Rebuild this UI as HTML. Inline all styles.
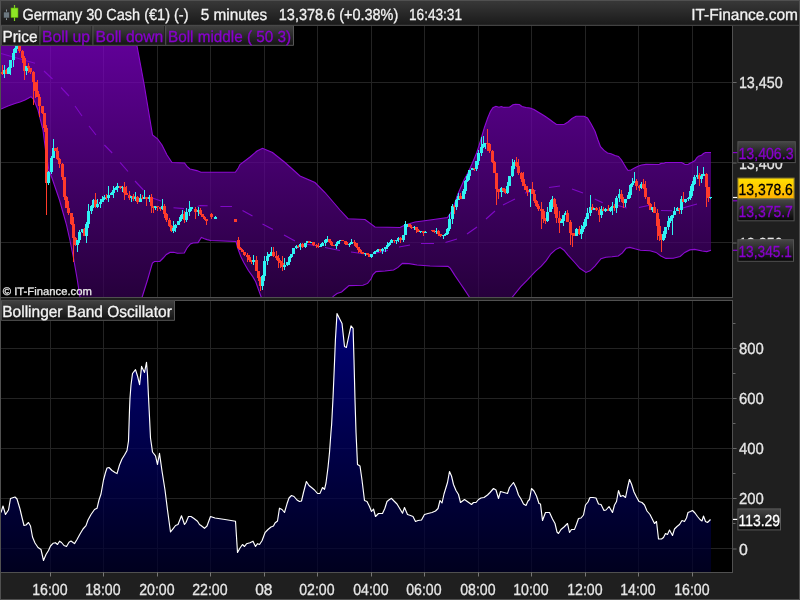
<!DOCTYPE html><html><head><meta charset="utf-8"><title>Germany 30 Cash</title>
<style>html,body{margin:0;padding:0;background:#000;overflow:hidden}svg{display:block}text{font-family:'Liberation Sans', Arial, sans-serif;text-rendering:geometricPrecision}</style></head><body>
<svg width="800" height="600" viewBox="0 0 800 600">
<defs>
<linearGradient id="gh" x1="0" y1="0" x2="0" y2="1"><stop offset="0" stop-color="#393939"/><stop offset="1" stop-color="#1a1a1a"/></linearGradient>
<linearGradient id="gp" gradientUnits="userSpaceOnUse" x1="0" y1="46" x2="0" y2="297"><stop offset="0" stop-color="#8400d0"/><stop offset="1" stop-color="#350053"/></linearGradient>
<linearGradient id="gb" gradientUnits="userSpaceOnUse" x1="0" y1="301" x2="0" y2="572"><stop offset="0" stop-color="#0000a9"/><stop offset="1" stop-color="#00002a"/></linearGradient>
<linearGradient id="gt" x1="0" y1="0" x2="0" y2="1"><stop offset="0" stop-color="#424242"/><stop offset="1" stop-color="#121212"/></linearGradient>
<linearGradient id="gx" x1="0" y1="0" x2="0" y2="1"><stop offset="0" stop-color="#464646"/><stop offset="1" stop-color="#060606"/></linearGradient>
<linearGradient id="gy" x1="0" y1="0" x2="0" y2="1"><stop offset="0" stop-color="#ffe000"/><stop offset="1" stop-color="#ffb000"/></linearGradient>
<clipPath id="ct"><rect x="1" y="25.5" width="731" height="271.5"/></clipPath>
<clipPath id="cb"><rect x="1" y="301" width="731" height="271"/></clipPath>
</defs>
<rect width="800" height="600" fill="#000"/>
<path d="M50.5 25.5V297M50.5 301V572M103.5 25.5V297M103.5 301V572M157.5 25.5V297M157.5 301V572M210.5 25.5V297M210.5 301V572M264.5 25.5V297M264.5 301V572M317.5 25.5V297M317.5 301V572M371.5 25.5V297M371.5 301V572M424.5 25.5V297M424.5 301V572M478.5 25.5V297M478.5 301V572M531.5 25.5V297M531.5 301V572M585.5 25.5V297M585.5 301V572M638.5 25.5V297M638.5 301V572M692.5 25.5V297M692.5 301V572M1 82.5H732M1 162.5H732M1 242.5H732M1 348.5H732M1 398.5H732M1 448.5H732M1 498.5H732M1 548.5H732" stroke="#232323" stroke-width="1" fill="none"/>
<g clip-path="url(#ct)">
<polygon points="-5,-14 137,46 143.8,82.5 149.2,115 152.5,135 157.5,138.8 162,145 167,155 172,162.5 184.5,163 187,166.3 190,169 196.8,170.6 201,172.3 235.3,172.3 238.3,168 240,164.5 250,157 257,151 262.5,148.3 272.5,152.5 285,162.5 300,176 315,182.5 325,192.5 340,210 348,218.7 365,219.5 375,227 400,227.5 405,225 415,222 430,220 447.5,217.5 452.5,210 457.5,195 464,180 468.5,171.7 472.2,163.5 476.9,152.2 480.6,140.5 484.4,127.5 487.7,118 490.4,111.5 492.9,107.8 495.9,106.3 498.9,107.2 501.4,106.5 503.9,107.4 509.9,107 512.9,104.7 515.4,104.2 519.4,104.5 522,106.5 526,107.5 530,108 534,109.5 538,112 541,113.8 545,116.2 549,119 553,122 556.5,124.5 564,124.5 568,122 572,118.5 576,116.3 584,116.3 587.5,118 591,123.8 595,131.3 598,140 600.5,146.6 604,150.4 607.5,153 611,153.7 615,155.5 618.5,156.4 621.5,160 624,164.2 626,167.6 628,170.5 631,170 634.5,168 638,166.2 641.5,165 646,164.4 659,164.5 661,163.4 664,163.2 665.5,162.5 681.5,162.5 683,163.3 685,164.5 688,164.5 690,163.3 692.5,162 695,160.5 696.5,158 698.5,156.2 701.5,155.2 703.5,153.5 705.5,152.5 711,152.5 711,250.3 706.8,251.6 702.1,251 694.7,249.4 689.8,249.9 684.8,252.4 680.1,256.5 673.3,258.3 665.8,258.4 660.9,256 656,252.4 650,250.7 640.3,250.2 634.8,248.8 629.8,247.4 626,248.3 622.4,252.9 618.3,256 612,256.8 605.9,257.3 601,258.7 594.9,266.1 590,270.8 586,272.5 579.8,268.3 574.3,262 568,255.1 564,250.2 560,247.4 555.6,249.6 550.9,253.8 546.2,260.6 541.3,266.1 535.2,271.6 527.5,279.9 520.6,286.8 512.4,297 490,330 491,330 469,296.5 465,290.4 460,283 455,275.6 450.4,268.4 448,266.4 430,266 417,265 409,263.6 402.4,263.4 398,267.4 393.6,270 385,271 376,271.6 373,274.6 371,279 367.6,283.4 363,285.3 349,285.6 345,289 341.6,292 337,293.6 333,296.5 320,330 273,330 261,296.5 258.2,288.7 255.7,281.7 252.6,276.4 248.2,270.3 243.8,262.4 240.7,256.3 237.7,248 236,241.5 210.5,240.5 207,239.6 204.4,238.7 201.4,237.4 198,242.6 193,243 190.4,244 187,248 184.3,253 177.3,253.3 173.8,252.2 170,252.4 166.4,254.5 163.2,258 159.8,261.5 154.5,261.5 152.4,263 147.5,280 142.3,296.5 131,330 86,330 79.8,295.8 77,278 73.5,258 70,240.5 66.5,224.8 63,212.5 59.5,200 56,189.8 51.8,177.5 49,170.5 45.5,150 43,130 38,110 34,100 31,96.7 25,100 20,102 15,103.5 8,106 1,109 -5,109" fill="url(#gp)" fill-opacity="0.72"/>
<polyline points="-5,-14 137,46 143.8,82.5 149.2,115 152.5,135 157.5,138.8 162,145 167,155 172,162.5 184.5,163 187,166.3 190,169 196.8,170.6 201,172.3 235.3,172.3 238.3,168 240,164.5 250,157 257,151 262.5,148.3 272.5,152.5 285,162.5 300,176 315,182.5 325,192.5 340,210 348,218.7 365,219.5 375,227 400,227.5 405,225 415,222 430,220 447.5,217.5 452.5,210 457.5,195 464,180 468.5,171.7 472.2,163.5 476.9,152.2 480.6,140.5 484.4,127.5 487.7,118 490.4,111.5 492.9,107.8 495.9,106.3 498.9,107.2 501.4,106.5 503.9,107.4 509.9,107 512.9,104.7 515.4,104.2 519.4,104.5 522,106.5 526,107.5 530,108 534,109.5 538,112 541,113.8 545,116.2 549,119 553,122 556.5,124.5 564,124.5 568,122 572,118.5 576,116.3 584,116.3 587.5,118 591,123.8 595,131.3 598,140 600.5,146.6 604,150.4 607.5,153 611,153.7 615,155.5 618.5,156.4 621.5,160 624,164.2 626,167.6 628,170.5 631,170 634.5,168 638,166.2 641.5,165 646,164.4 659,164.5 661,163.4 664,163.2 665.5,162.5 681.5,162.5 683,163.3 685,164.5 688,164.5 690,163.3 692.5,162 695,160.5 696.5,158 698.5,156.2 701.5,155.2 703.5,153.5 705.5,152.5 711,152.5" fill="none" stroke="#8c0ad2" stroke-width="1.1"/>
<polyline points="1,109 8,106 15,103.5 20,102 25,100 31,96.7 34,100 38,110 43,130 45.5,150 49,170.5 51.8,177.5 56,189.8 59.5,200 63,212.5 66.5,224.8 70,240.5 73.5,258 77,278 79.8,295.8 86,330 131,330 142.3,296.5 147.5,280 152.4,263 154.5,261.5 159.8,261.5 163.2,258 166.4,254.5 170,252.4 173.8,252.2 177.3,253.3 184.3,253 187,248 190.4,244 193,243 198,242.6 201.4,237.4 204.4,238.7 207,239.6 210.5,240.5 236,241.5 237.7,248 240.7,256.3 243.8,262.4 248.2,270.3 252.6,276.4 255.7,281.7 258.2,288.7 261,296.5 273,330 320,330 333,296.5 337,293.6 341.6,292 345,289 349,285.6 363,285.3 367.6,283.4 371,279 373,274.6 376,271.6 385,271 393.6,270 398,267.4 402.4,263.4 409,263.6 417,265 430,266 448,266.4 450.4,268.4 455,275.6 460,283 465,290.4 469,296.5 491,330 490,330 512.4,297 520.6,286.8 527.5,279.9 535.2,271.6 541.3,266.1 546.2,260.6 550.9,253.8 555.6,249.6 560,247.4 564,250.2 568,255.1 574.3,262 579.8,268.3 586,272.5 590,270.8 594.9,266.1 601,258.7 605.9,257.3 612,256.8 618.3,256 622.4,252.9 626,248.3 629.8,247.4 634.8,248.8 640.3,250.2 650,250.7 656,252.4 660.9,256 665.8,258.4 673.3,258.3 680.1,256.5 684.8,252.4 689.8,249.9 694.7,249.4 702.1,251 706.8,251.6 711,250.3" fill="none" stroke="#8c0ad2" stroke-width="1.1"/>
<path d="M1 53.5L35 63.2 M44 71L52.5 79 M61 87.5L69 96 M75 106L82 116 M89 126L96 135 M104.4 145L112.2 153 M120 162.4L128 171.5 M135 181L143.4 190 M151.6 197.8L161 201 M173.5 207.7L184 208.6 M197.5 206.5L200 205.6 M200 205.6L207.6 205.7 M220.4 206.5L232 206.5 M242.5 210.5L252.5 216 M262.5 224L273 229.5 M284 235L295 241 M305 244L315 245.5 M325 247.5L340 250.5 M351 252L365 254 M376 253L388 250.5 M399 247L410 245 M421 243.5L434 243.5 M445.5 242.5L457 239 M467 234L477 227 M486 219L495 211 M503 205L515 199 M525 193L536 190.5 M549 187.5L560 186 M572 189L583 193 M594.7 199L602.7 202.7 M616 205L626.7 208 M639 207.5L650.7 205 M661 210.5L672 210.7 M682.7 208L697 204" fill="none" stroke="#7f08c6" stroke-width="1.1"/>
</g>
<g clip-path="url(#ct)" shape-rendering="crispEdges">
<path d="M2 65h1V75h-1zM1 72h3V74h-3z" fill="#ff3b2b"/>
<path d="M4 65h1V78h-1zM3 70h3V74h-3z" fill="#2ff3f3"/>
<path d="M6 69h1V74h-1zM5 70h3V74h-3z" fill="#ff3b2b"/>
<path d="M8 67h1V74h-1zM7 68h3V74h-3zM10 60h1V75h-1zM9 60h3V68h-3zM13 49h1V67h-1zM12 53h3V60h-3zM15 41h1V53h-1zM14 48h3V53h-3zM17 45h1V49h-1zM16 46h3V48h-3z" fill="#2ff3f3"/>
<path d="M19 42h1V53h-1zM18 46h3V51h-3zM22 50h1V63h-1zM21 51h3V58h-3zM24 56h1V80h-1zM23 58h3V71h-3z" fill="#ff3b2b"/>
<path d="M26 66h1V75h-1zM25 66h3V71h-3z" fill="#2ff3f3"/>
<path d="M28 63h1V73h-1zM27 66h3V68h-3zM30 68h1V74h-1zM29 68h3V72h-3zM33 71h1V105h-1zM32 72h3V82h-3zM35 82h1V98h-1zM34 82h3V91h-3zM37 80h1V97h-1zM36 91h3V97h-3zM39 94h1V117h-1zM38 97h3V106h-3zM42 106h1V114h-1zM41 106h3V113h-3zM44 113h1V132h-1zM43 113h3V128h-3zM46 125h1V215h-1zM45 128h3V183h-3z" fill="#ff3b2b"/>
<path d="M48 171h1V185h-1zM47 172h3V183h-3zM51 156h1V174h-1zM50 158h3V172h-3zM53 139h1V158h-1zM52 148h3V158h-3z" fill="#2ff3f3"/>
<path d="M55 148h1V151h-1zM54 148h3V151h-3zM57 147h1V160h-1zM56 151h3V159h-3zM59 158h1V168h-1zM58 159h3V164h-3zM62 163h1V180h-1zM61 164h3V177h-3zM64 177h1V200h-1zM63 177h3V197h-3zM66 196h1V208h-1zM65 197h3V208h-3zM68 201h1V215h-1zM67 208h3V213h-3zM71 213h1V225h-1zM70 213h3V224h-3zM73 217h1V262h-1zM72 224h3V238h-3zM75 237h1V246h-1zM74 238h3V245h-3z" fill="#ff3b2b"/>
<path d="M77 240h1V252h-1zM76 240h3V245h-3zM79 230h1V243h-1zM78 232h3V240h-3zM82 229h1V233h-1zM81 229h3V232h-3z" fill="#2ff3f3"/>
<path d="M84 228h1V236h-1zM83 229h3V236h-3z" fill="#ff3b2b"/>
<path d="M86 222h1V243h-1zM85 224h3V236h-3zM88 204h1V228h-1zM87 211h3V224h-3zM91 205h1V214h-1zM90 206h3V211h-3zM93 199h1V208h-1zM92 200h3V206h-3z" fill="#2ff3f3"/>
<path d="M95 193h1V208h-1zM94 200h3V207h-3z" fill="#ff3b2b"/>
<path d="M97 199h1V208h-1zM96 204h3V207h-3zM100 199h1V208h-1zM99 202h3V204h-3zM102 196h1V202h-1zM101 199h3V202h-3zM104 195h1V200h-1zM103 197h3V199h-3z" fill="#2ff3f3"/>
<path d="M106 194h1V200h-1zM105 197h3V198h-3z" fill="#ff3b2b"/>
<path d="M108 186h1V202h-1zM107 195h3V198h-3zM111 192h1V195h-1zM110 193h3V195h-3zM113 186h1V198h-1zM112 190h3V193h-3zM115 187h1V190h-1zM114 188h3V190h-3zM117 183h1V192h-1zM116 186h3V188h-3z" fill="#2ff3f3"/>
<path d="M120 186h1V189h-1zM119 186h3V188h-3z" fill="#ff3b2b"/>
<path d="M122 186h1V192h-1zM121 187h3V188h-3z" fill="#2ff3f3"/>
<path d="M124 182h1V200h-1zM123 187h3V193h-3zM126 186h1V195h-1zM125 193h3V195h-3zM129 191h1V200h-1zM128 195h3V198h-3z" fill="#ff3b2b"/>
<path d="M131 196h1V202h-1zM130 196h3V198h-3z" fill="#2ff3f3"/>
<path d="M133 194h1V201h-1zM132 196h3V199h-3z" fill="#ff3b2b"/>
<path d="M135 192h1V201h-1zM134 197h3V199h-3z" fill="#2ff3f3"/>
<path d="M137 196h1V204h-1zM136 197h3V202h-3z" fill="#ff3b2b"/>
<path d="M140 194h1V202h-1zM139 198h3V202h-3z" fill="#2ff3f3"/>
<path d="M142 195h1V199h-1zM141 198h3V199h-3z" fill="#ff3b2b"/>
<path d="M144 190h1V199h-1zM143 197h3V199h-3z" fill="#2ff3f3"/>
<path d="M146 197h1V206h-1zM145 197h3V199h-3z" fill="#ff3b2b"/>
<path d="M149 195h1V202h-1zM148 197h3V199h-3z" fill="#2ff3f3"/>
<path d="M151 194h1V213h-1zM150 197h3V206h-3zM153 206h1V213h-1zM152 206h3V208h-3z" fill="#ff3b2b"/>
<path d="M155 206h1V210h-1zM154 206h3V208h-3z" fill="#2ff3f3"/>
<path d="M157 206h1V211h-1zM156 206h3V207h-3zM160 207h1V211h-1zM159 207h3V209h-3z" fill="#ff3b2b"/>
<path d="M162 199h1V210h-1zM161 206h3V209h-3z" fill="#2ff3f3"/>
<path d="M164 204h1V218h-1zM163 206h3V214h-3zM166 213h1V222h-1zM165 214h3V220h-3zM169 218h1V227h-1zM168 220h3V226h-3zM171 225h1V232h-1zM170 226h3V231h-3z" fill="#ff3b2b"/>
<path d="M173 221h1V233h-1zM172 228h3V231h-3zM175 224h1V232h-1zM174 225h3V228h-3zM178 221h1V225h-1zM177 221h3V225h-3zM180 215h1V222h-1zM179 217h3V221h-3zM182 210h1V219h-1zM181 214h3V217h-3z" fill="#2ff3f3"/>
<path d="M184 211h1V223h-1zM183 214h3V220h-3z" fill="#ff3b2b"/>
<path d="M186 208h1V222h-1zM185 212h3V220h-3zM189 201h1V216h-1zM188 209h3V212h-3zM191 207h1V211h-1zM190 207h3V209h-3z" fill="#2ff3f3"/>
<path d="M195 207h1V219h-1zM194 209h3V212h-3z" fill="#ff3b2b"/>
<path d="M198 207h1V216h-1zM197 210h3V212h-3z" fill="#2ff3f3"/>
<path d="M200 208h1V215h-1zM199 210h3V214h-3zM202 214h1V217h-1zM201 214h3V217h-3zM204 216h1V220h-1zM203 217h3V219h-3zM206 219h1V225h-1zM205 219h3V221h-3zM211 213h1V219h-1zM210 214h3V217h-3z" fill="#ff3b2b"/>
<path d="M215 216h1V219h-1zM214 217h3V219h-3z" fill="#2ff3f3"/>
<path d="M238 237h1V249h-1zM237 240h3V248h-3zM240 247h1V250h-1zM239 248h3V250h-3zM242 249h1V252h-1zM241 250h3V252h-3zM244 252h1V256h-1zM243 252h3V255h-3zM247 253h1V262h-1zM246 255h3V257h-3zM249 255h1V262h-1zM248 257h3V260h-3zM251 260h1V264h-1zM250 260h3V262h-3z" fill="#ff3b2b"/>
<path d="M253 255h1V265h-1zM252 260h3V262h-3z" fill="#2ff3f3"/>
<path d="M256 256h1V271h-1zM255 260h3V271h-3zM258 271h1V281h-1zM257 271h3V278h-3zM260 277h1V291h-1zM259 278h3V286h-3z" fill="#ff3b2b"/>
<path d="M262 275h1V290h-1zM261 276h3V286h-3zM264 256h1V281h-1zM263 261h3V276h-3zM267 252h1V265h-1zM266 256h3V261h-3zM269 254h1V257h-1zM268 254h3V256h-3zM271 247h1V256h-1zM270 252h3V254h-3z" fill="#2ff3f3"/>
<path d="M273 247h1V257h-1zM272 252h3V256h-3zM276 251h1V260h-1zM275 256h3V258h-3zM278 255h1V268h-1zM277 258h3V261h-3zM280 260h1V268h-1zM279 261h3V263h-3zM282 256h1V271h-1zM281 263h3V267h-3z" fill="#ff3b2b"/>
<path d="M284 258h1V270h-1zM283 265h3V267h-3zM287 262h1V266h-1zM286 262h3V265h-3zM289 256h1V265h-1zM288 257h3V262h-3zM291 254h1V258h-1zM290 254h3V257h-3zM293 248h1V254h-1zM292 248h3V254h-3zM296 245h1V249h-1zM295 246h3V248h-3z" fill="#2ff3f3"/>
<path d="M298 245h1V248h-1zM297 246h3V247h-3z" fill="#ff3b2b"/>
<path d="M300 243h1V250h-1zM299 244h3V247h-3z" fill="#2ff3f3"/>
<path d="M302 243h1V248h-1zM301 244h3V247h-3z" fill="#ff3b2b"/>
<path d="M305 243h1V248h-1zM304 243h3V247h-3zM307 241h1V243h-1zM306 241h3V243h-3z" fill="#2ff3f3"/>
<path d="M309 241h1V243h-1zM308 241h3V243h-3z" fill="#ff3b2b"/>
<path d="M311 242h1V243h-1zM310 242h3V243h-3z" fill="#2ff3f3"/>
<path d="M313 242h1V246h-1zM312 242h3V245h-3zM316 244h1V248h-1zM315 245h3V246h-3zM318 243h1V248h-1zM317 246h3V247h-3z" fill="#ff3b2b"/>
<path d="M320 244h1V247h-1zM319 246h3V247h-3zM322 242h1V246h-1zM321 243h3V246h-3zM325 239h1V246h-1zM324 240h3V243h-3zM327 236h1V242h-1zM326 239h3V240h-3z" fill="#2ff3f3"/>
<path d="M329 239h1V243h-1zM328 239h3V242h-3zM331 241h1V246h-1zM330 242h3V245h-3zM333 245h1V246h-1zM332 245h3V246h-3z" fill="#ff3b2b"/>
<path d="M336 242h1V249h-1zM335 244h3V246h-3zM338 241h1V244h-1zM337 241h3V244h-3zM340 240h1V241h-1zM339 240h3V241h-3z" fill="#2ff3f3"/>
<path d="M342 240h1V241h-1zM341 240h3V241h-3zM345 241h1V245h-1zM344 241h3V244h-3zM347 242h1V245h-1zM346 244h3V245h-3z" fill="#ff3b2b"/>
<path d="M349 243h1V247h-1zM348 244h3V245h-3zM351 239h1V244h-1zM350 242h3V244h-3z" fill="#2ff3f3"/>
<path d="M354 240h1V246h-1zM353 242h3V243h-3zM356 243h1V248h-1zM355 243h3V247h-3zM358 247h1V253h-1zM357 247h3V250h-3zM360 249h1V253h-1zM359 250h3V252h-3zM362 252h1V254h-1zM361 252h3V254h-3z" fill="#ff3b2b"/>
<path d="M365 253h1V256h-1zM364 253h3V254h-3z" fill="#2ff3f3"/>
<path d="M367 253h1V255h-1zM366 253h3V255h-3zM369 254h1V257h-1zM368 255h3V257h-3z" fill="#ff3b2b"/>
<path d="M371 254h1V258h-1zM370 254h3V257h-3zM374 251h1V254h-1zM373 252h3V254h-3zM376 250h1V252h-1zM375 251h3V252h-3zM378 249h1V252h-1zM377 249h3V251h-3z" fill="#2ff3f3"/>
<path d="M380 249h1V252h-1zM379 249h3V251h-3z" fill="#ff3b2b"/>
<path d="M382 248h1V254h-1zM381 249h3V251h-3zM385 247h1V252h-1zM384 247h3V249h-3zM387 242h1V249h-1zM386 245h3V247h-3zM389 242h1V246h-1zM388 243h3V245h-3zM391 239h1V243h-1zM390 240h3V243h-3z" fill="#2ff3f3"/>
<path d="M394 240h1V243h-1zM393 240h3V241h-3z" fill="#ff3b2b"/>
<path d="M396 240h1V244h-1zM395 240h3V241h-3zM398 237h1V242h-1zM397 238h3V240h-3z" fill="#2ff3f3"/>
<path d="M400 237h1V243h-1zM399 238h3V240h-3z" fill="#ff3b2b"/>
<path d="M403 235h1V242h-1zM402 235h3V240h-3zM405 221h1V235h-1zM404 224h3V235h-3zM407 224h1V227h-1zM406 224h3V225h-3z" fill="#2ff3f3"/>
<path d="M409 224h1V227h-1zM408 224h3V227h-3zM411 225h1V229h-1zM410 227h3V228h-3z" fill="#ff3b2b"/>
<path d="M414 226h1V230h-1zM413 227h3V228h-3z" fill="#2ff3f3"/>
<path d="M416 227h1V233h-1zM415 227h3V230h-3zM418 229h1V232h-1zM417 230h3V232h-3z" fill="#ff3b2b"/>
<path d="M420 231h1V233h-1zM419 231h3V232h-3z" fill="#2ff3f3"/>
<path d="M423 231h1V236h-1zM422 231h3V233h-3z" fill="#ff3b2b"/>
<path d="M425 231h1V233h-1zM424 232h3V233h-3z" fill="#2ff3f3"/>
<path d="M432 230h1V232h-1zM431 230h3V231h-3zM434 230h1V233h-1zM433 231h3V232h-3z" fill="#ff3b2b"/>
<path d="M436 228h1V234h-1zM435 231h3V232h-3z" fill="#2ff3f3"/>
<path d="M438 230h1V236h-1zM437 231h3V234h-3zM440 234h1V237h-1zM439 234h3V236h-3z" fill="#ff3b2b"/>
<path d="M443 235h1V239h-1zM442 235h3V236h-3zM445 233h1V236h-1zM444 234h3V235h-3zM447 228h1V235h-1zM446 229h3V234h-3zM449 214h1V231h-1zM448 219h3V229h-3zM452 204h1V224h-1zM451 206h3V219h-3z" fill="#2ff3f3"/>
<path d="M454 205h1V214h-1zM453 206h3V207h-3z" fill="#ff3b2b"/>
<path d="M456 199h1V210h-1zM455 200h3V207h-3zM458 193h1V200h-1zM457 196h3V200h-3z" fill="#2ff3f3"/>
<path d="M460 193h1V199h-1zM459 196h3V199h-3z" fill="#ff3b2b"/>
<path d="M463 189h1V199h-1zM462 191h3V199h-3zM465 180h1V194h-1zM464 181h3V191h-3zM467 174h1V182h-1zM466 176h3V181h-3zM469 170h1V180h-1zM468 170h3V176h-3zM472 168h1V170h-1zM471 168h3V170h-3z" fill="#2ff3f3"/>
<path d="M474 168h1V171h-1zM473 168h3V169h-3z" fill="#ff3b2b"/>
<path d="M476 161h1V171h-1zM475 161h3V169h-3zM478 150h1V165h-1zM477 153h3V161h-3zM481 137h1V156h-1zM480 147h3V153h-3zM483 136h1V148h-1zM482 144h3V147h-3zM485 143h1V149h-1zM484 143h3V144h-3z" fill="#2ff3f3"/>
<path d="M487 129h1V151h-1zM486 143h3V144h-3zM489 143h1V153h-1zM488 144h3V151h-3zM492 150h1V163h-1zM491 151h3V162h-3zM494 161h1V173h-1zM493 162h3V173h-3zM496 173h1V205h-1zM495 173h3V189h-3zM498 189h1V199h-1zM497 189h3V192h-3z" fill="#ff3b2b"/>
<path d="M501 187h1V197h-1zM500 188h3V192h-3z" fill="#2ff3f3"/>
<path d="M503 188h1V192h-1zM502 188h3V191h-3zM505 189h1V194h-1zM504 191h3V193h-3z" fill="#ff3b2b"/>
<path d="M507 182h1V194h-1zM506 186h3V193h-3zM509 176h1V186h-1zM508 176h3V186h-3zM512 159h1V177h-1zM511 166h3V176h-3zM514 160h1V169h-1zM513 162h3V166h-3z" fill="#2ff3f3"/>
<path d="M516 157h1V167h-1zM515 162h3V166h-3zM518 159h1V175h-1zM517 166h3V173h-3zM521 172h1V182h-1zM520 173h3V179h-3zM523 172h1V186h-1zM522 179h3V186h-3zM525 184h1V190h-1zM524 186h3V190h-3zM527 186h1V196h-1zM526 190h3V192h-3z" fill="#ff3b2b"/>
<path d="M530 189h1V207h-1zM529 189h3V192h-3z" fill="#2ff3f3"/>
<path d="M532 182h1V194h-1zM531 189h3V194h-3zM534 190h1V203h-1zM533 194h3V201h-3zM536 200h1V207h-1zM535 201h3V206h-3zM538 204h1V211h-1zM537 206h3V209h-3zM541 202h1V229h-1zM540 209h3V211h-3zM543 209h1V223h-1zM542 211h3V219h-3zM545 218h1V224h-1zM544 219h3V221h-3z" fill="#ff3b2b"/>
<path d="M547 207h1V222h-1zM546 212h3V221h-3zM550 200h1V212h-1zM549 202h3V212h-3zM552 196h1V209h-1zM551 199h3V202h-3z" fill="#2ff3f3"/>
<path d="M554 198h1V214h-1zM553 199h3V207h-3zM556 204h1V223h-1zM555 207h3V218h-3zM559 211h1V233h-1zM558 218h3V223h-3z" fill="#ff3b2b"/>
<path d="M561 219h1V223h-1zM560 221h3V223h-3zM563 215h1V226h-1zM562 215h3V221h-3zM565 211h1V215h-1zM564 213h3V215h-3z" fill="#2ff3f3"/>
<path d="M567 210h1V222h-1zM566 213h3V222h-3zM570 220h1V245h-1zM569 222h3V233h-3zM572 233h1V247h-1zM571 233h3V235h-3zM574 233h1V236h-1zM573 235h3V236h-3z" fill="#ff3b2b"/>
<path d="M576 228h1V236h-1zM575 229h3V236h-3z" fill="#2ff3f3"/>
<path d="M579 226h1V235h-1zM578 229h3V234h-3z" fill="#ff3b2b"/>
<path d="M581 225h1V239h-1zM580 229h3V234h-3zM583 222h1V232h-1zM582 226h3V229h-3zM585 217h1V227h-1zM584 219h3V226h-3zM587 208h1V219h-1zM586 213h3V219h-3zM590 195h1V216h-1zM589 207h3V213h-3z" fill="#2ff3f3"/>
<path d="M592 204h1V210h-1zM591 207h3V210h-3z" fill="#ff3b2b"/>
<path d="M594 208h1V210h-1zM593 208h3V210h-3z" fill="#2ff3f3"/>
<path d="M596 207h1V211h-1zM595 208h3V210h-3zM599 207h1V222h-1zM598 210h3V215h-3z" fill="#ff3b2b"/>
<path d="M601 206h1V218h-1zM600 209h3V215h-3z" fill="#2ff3f3"/>
<path d="M603 207h1V211h-1zM602 209h3V211h-3z" fill="#ff3b2b"/>
<path d="M605 208h1V212h-1zM604 209h3V211h-3z" fill="#2ff3f3"/>
<path d="M608 205h1V211h-1zM607 209h3V211h-3z" fill="#ff3b2b"/>
<path d="M610 207h1V212h-1zM609 208h3V211h-3zM612 202h1V215h-1zM611 206h3V208h-3z" fill="#2ff3f3"/>
<path d="M614 204h1V211h-1zM613 206h3V208h-3z" fill="#ff3b2b"/>
<path d="M616 196h1V213h-1zM615 198h3V208h-3zM619 189h1V202h-1zM618 194h3V198h-3z" fill="#2ff3f3"/>
<path d="M621 190h1V202h-1zM620 194h3V199h-3zM623 197h1V208h-1zM622 199h3V203h-3z" fill="#ff3b2b"/>
<path d="M625 199h1V207h-1zM624 199h3V203h-3zM628 192h1V199h-1zM627 195h3V199h-3zM630 184h1V198h-1zM629 185h3V195h-3zM632 178h1V187h-1zM631 183h3V185h-3zM634 172h1V183h-1zM633 181h3V183h-3z" fill="#2ff3f3"/>
<path d="M636 179h1V190h-1zM635 181h3V186h-3zM639 185h1V191h-1zM638 186h3V188h-3z" fill="#ff3b2b"/>
<path d="M641 182h1V189h-1zM640 184h3V188h-3z" fill="#2ff3f3"/>
<path d="M643 179h1V189h-1zM642 184h3V188h-3zM645 181h1V199h-1zM644 188h3V197h-3zM648 197h1V205h-1zM647 197h3V204h-3zM650 203h1V210h-1zM649 204h3V210h-3z" fill="#ff3b2b"/>
<path d="M652 207h1V212h-1zM651 207h3V210h-3z" fill="#2ff3f3"/>
<path d="M654 202h1V213h-1zM653 207h3V213h-3zM657 209h1V240h-1zM656 213h3V226h-3zM659 219h1V241h-1zM658 226h3V236h-3zM661 234h1V252h-1zM660 236h3V240h-3z" fill="#ff3b2b"/>
<path d="M663 231h1V241h-1zM662 234h3V240h-3zM665 227h1V238h-1zM664 227h3V234h-3zM668 216h1V230h-1zM667 221h3V227h-3zM670 216h1V223h-1zM669 218h3V221h-3zM672 215h1V235h-1zM671 215h3V218h-3zM674 207h1V215h-1zM673 211h3V215h-3zM677 207h1V211h-1zM676 208h3V211h-3z" fill="#2ff3f3"/>
<path d="M679 208h1V214h-1zM678 208h3V210h-3z" fill="#ff3b2b"/>
<path d="M681 196h1V214h-1zM680 199h3V210h-3z" fill="#2ff3f3"/>
<path d="M683 192h1V202h-1zM682 199h3V202h-3z" fill="#ff3b2b"/>
<path d="M685 199h1V203h-1zM684 199h3V202h-3zM688 197h1V201h-1zM687 198h3V199h-3zM690 186h1V200h-1zM689 191h3V198h-3zM692 181h1V196h-1zM691 184h3V191h-3zM694 175h1V185h-1zM693 177h3V184h-3zM697 166h1V179h-1zM696 175h3V177h-3z" fill="#2ff3f3"/>
<path d="M699 173h1V186h-1zM698 175h3V179h-3z" fill="#ff3b2b"/>
<path d="M701 174h1V183h-1zM700 176h3V179h-3zM703 167h1V176h-1zM702 174h3V176h-3z" fill="#2ff3f3"/>
<path d="M706 173h1V207h-1zM705 174h3V187h-3zM708 187h1V202h-1zM707 187h3V198h-3z" fill="#ff3b2b"/>
<path d="M710 197h1V199h-1zM709 197h3V198h-3z" fill="#2ff3f3"/>
<path d="M234 219h3v3h-3z" fill="#ff3b2b"/>
</g>
<g clip-path="url(#cb)">
<polygon points="1,572 1,512.5 3,506 5.5,514.5 8.5,510 10.5,498.5 15,497 17,499 20,509 22,517.5 24,525.5 26,525 28.5,522.5 30.5,526 32.5,537 35,543 38,547.5 41,549.5 43.5,560.5 46,554.5 48.5,550.5 50.5,546 53,543.3 55.5,542.7 57.5,544.5 59.5,541.2 61.5,542.5 64,545.5 66.5,546.5 69,542.2 71,541 73,542.5 74.5,543.6 77,539.5 80,534 83,529 86,525.6 88,520 91,514.5 94.5,509.5 97,508.3 99,500 101,494 103.5,480 105.5,472.5 107,468 109,467.5 112,470.5 115,472.5 117,473.6 119.5,465 122,459 124.5,455 127,450.5 128.5,441 129.5,410 130,398 131,385 132.5,373.5 135.5,369.6 137.5,376 139.6,384.6 141.6,366.4 144.5,372.5 146.5,362.3 147.5,375 148.4,395 149.4,415 150.5,438 152.5,452 155.5,455.8 157.5,464.5 159.5,453.3 162,471 165,490 167.5,510 170.5,532 173,528.8 175.5,525.5 178,524.5 181.5,515.8 184.5,524.5 186,522.5 188.5,516.5 191,516.5 194,518.5 197.5,521.2 199.5,524.5 201,525.5 204.5,528.3 207,526 210.5,516.5 215,518 225,519.5 235.5,521.2 237.5,552.5 240,548 242.5,544.5 244.5,546.5 246.5,543.8 250,542.7 253,541.2 255.5,546.5 257.5,543.7 259.5,544.5 262,540.8 265,532.7 268,529.5 271,527 273.5,526 275,523 277.5,521 279.5,508.2 282,509.5 284.5,512.5 287,503.8 289,498 291.5,495.5 294,496.5 297,500 299.5,501.5 301.5,501 303.5,492.5 306.4,481.5 309,485.5 311.5,487.5 314.5,490 317.5,493.5 320,493.4 322.5,487.5 324.5,489.3 326,483 328,467.5 329.5,452.5 331,432 331.6,425 333,398 334.2,370 335.4,340 337,313.6 339.6,318.8 342,323.4 344.5,346.5 346.4,347.4 349,335 351,325.8 353.1,328.4 354,360 355,400 356,432 356.6,445 357.5,464.5 360,466 362,480 364.5,500.5 367,501.5 369.5,506.5 371.5,511.5 373.5,509 375.5,516.5 378.5,513.5 382.5,513.4 384.8,508.5 387,501.5 389.5,499.5 391.5,498.3 394,501 397,504 400,509 402.5,513.2 404.5,507.5 407.5,514.5 410.5,515.5 413,516.5 415.5,521.5 418,520.5 421.5,520 424.5,514.5 428,513.5 432,512.5 435.5,511 438,508.5 440,500.5 442,503 444,494 447.5,482.5 449.5,471.5 451.5,476 453.5,484.5 456,490.5 458.5,494.5 460.5,502.5 464.5,499.5 468,502 471.5,504.5 473.5,502.5 476,502.5 478.5,499.5 481,498 484,497.5 487.5,495 490,492.5 493.5,488.5 496,490 498.5,498.5 500.5,491.5 504,492.5 507.5,493.5 509.5,487.5 513.5,482.5 516,487.5 518.5,495 521,499 523.5,504 526,505.5 528,501 529.5,499.5 531.5,488.5 534,491 536.5,496 539,503.5 540.5,504 542.5,520.5 545.5,512.5 549.5,512.5 552.5,519 555,523.5 557,532 558.5,533.5 561,529.5 564,527 567.5,523.5 569.5,532.5 571.5,529.5 574.5,529.4 576.5,524.2 578.5,518.5 581,518 583.5,515 585.5,505 588,502 590,497.5 593,497.5 596,498 598.5,504 601,504.5 604,510.5 606,510 609,506.5 612.5,512.5 614.5,505 616.5,501.5 618.5,490.5 620.5,496.5 623,495.5 625.5,497.5 627.5,488 629.5,479.5 631.5,484 634,492 636.5,497 639,501.5 642,502.5 644.5,505 647,511 650,514.5 652.5,519.5 654.5,523.5 656.5,521.5 658.5,539 661.5,539 663.5,537.5 665.5,533.5 667.5,534.5 669.5,530 672.5,535.5 674.5,529 677,526.5 679.5,524.5 682,520.5 684.5,521.5 686.5,518 688,512.5 690.5,511.5 692.5,510.5 695,513 697.5,516.5 700,519.5 702,521 703.5,516 705.5,521.5 707.5,522.5 710.5,519.5 711,519.5 711,572" fill="url(#gb)" fill-opacity="0.72"/>
</g>
<polyline points="1,512.5 3,506 5.5,514.5 8.5,510 10.5,498.5 15,497 17,499 20,509 22,517.5 24,525.5 26,525 28.5,522.5 30.5,526 32.5,537 35,543 38,547.5 41,549.5 43.5,560.5 46,554.5 48.5,550.5 50.5,546 53,543.3 55.5,542.7 57.5,544.5 59.5,541.2 61.5,542.5 64,545.5 66.5,546.5 69,542.2 71,541 73,542.5 74.5,543.6 77,539.5 80,534 83,529 86,525.6 88,520 91,514.5 94.5,509.5 97,508.3 99,500 101,494 103.5,480 105.5,472.5 107,468 109,467.5 112,470.5 115,472.5 117,473.6 119.5,465 122,459 124.5,455 127,450.5 128.5,441 129.5,410 130,398 131,385 132.5,373.5 135.5,369.6 137.5,376 139.6,384.6 141.6,366.4 144.5,372.5 146.5,362.3 147.5,375 148.4,395 149.4,415 150.5,438 152.5,452 155.5,455.8 157.5,464.5 159.5,453.3 162,471 165,490 167.5,510 170.5,532 173,528.8 175.5,525.5 178,524.5 181.5,515.8 184.5,524.5 186,522.5 188.5,516.5 191,516.5 194,518.5 197.5,521.2 199.5,524.5 201,525.5 204.5,528.3 207,526 210.5,516.5 215,518 225,519.5 235.5,521.2 237.5,552.5 240,548 242.5,544.5 244.5,546.5 246.5,543.8 250,542.7 253,541.2 255.5,546.5 257.5,543.7 259.5,544.5 262,540.8 265,532.7 268,529.5 271,527 273.5,526 275,523 277.5,521 279.5,508.2 282,509.5 284.5,512.5 287,503.8 289,498 291.5,495.5 294,496.5 297,500 299.5,501.5 301.5,501 303.5,492.5 306.4,481.5 309,485.5 311.5,487.5 314.5,490 317.5,493.5 320,493.4 322.5,487.5 324.5,489.3 326,483 328,467.5 329.5,452.5 331,432 331.6,425 333,398 334.2,370 335.4,340 337,313.6 339.6,318.8 342,323.4 344.5,346.5 346.4,347.4 349,335 351,325.8 353.1,328.4 354,360 355,400 356,432 356.6,445 357.5,464.5 360,466 362,480 364.5,500.5 367,501.5 369.5,506.5 371.5,511.5 373.5,509 375.5,516.5 378.5,513.5 382.5,513.4 384.8,508.5 387,501.5 389.5,499.5 391.5,498.3 394,501 397,504 400,509 402.5,513.2 404.5,507.5 407.5,514.5 410.5,515.5 413,516.5 415.5,521.5 418,520.5 421.5,520 424.5,514.5 428,513.5 432,512.5 435.5,511 438,508.5 440,500.5 442,503 444,494 447.5,482.5 449.5,471.5 451.5,476 453.5,484.5 456,490.5 458.5,494.5 460.5,502.5 464.5,499.5 468,502 471.5,504.5 473.5,502.5 476,502.5 478.5,499.5 481,498 484,497.5 487.5,495 490,492.5 493.5,488.5 496,490 498.5,498.5 500.5,491.5 504,492.5 507.5,493.5 509.5,487.5 513.5,482.5 516,487.5 518.5,495 521,499 523.5,504 526,505.5 528,501 529.5,499.5 531.5,488.5 534,491 536.5,496 539,503.5 540.5,504 542.5,520.5 545.5,512.5 549.5,512.5 552.5,519 555,523.5 557,532 558.5,533.5 561,529.5 564,527 567.5,523.5 569.5,532.5 571.5,529.5 574.5,529.4 576.5,524.2 578.5,518.5 581,518 583.5,515 585.5,505 588,502 590,497.5 593,497.5 596,498 598.5,504 601,504.5 604,510.5 606,510 609,506.5 612.5,512.5 614.5,505 616.5,501.5 618.5,490.5 620.5,496.5 623,495.5 625.5,497.5 627.5,488 629.5,479.5 631.5,484 634,492 636.5,497 639,501.5 642,502.5 644.5,505 647,511 650,514.5 652.5,519.5 654.5,523.5 656.5,521.5 658.5,539 661.5,539 663.5,537.5 665.5,533.5 667.5,534.5 669.5,530 672.5,535.5 674.5,529 677,526.5 679.5,524.5 682,520.5 684.5,521.5 686.5,518 688,512.5 690.5,511.5 692.5,510.5 695,513 697.5,516.5 700,519.5 702,521 703.5,516 705.5,521.5 707.5,522.5 710.5,519.5" fill="none" stroke="#fff" stroke-width="1.15" stroke-linejoin="round" clip-path="url(#cb)"/>
<rect x="0" y="0" width="800" height="25" fill="url(#gh)"/>
<rect x="0" y="0" width="800" height="1" fill="#464646"/>
<rect x="0" y="24.8" width="800" height="1.1" fill="#4a4a4a"/>
<rect x="733" y="25.9" width="67" height="575" fill="#1f1f1f"/>
<rect x="0" y="573" width="800" height="27" fill="#1f1f1f"/>
<rect x="0" y="298" width="733" height="2" fill="#1f1f1f"/>
<path d="M0 297.5H732.5M0 300.5H732.5M0 572.5H732.5M732.5 25.9V298M732.5 300V573" stroke="#505050" stroke-width="1" fill="none"/>
<path d="M6.5 9.5V20" stroke="#8a949c" stroke-width="1"/><rect x="3.5" y="12" width="6" height="6" fill="#6c7880" stroke="#222" stroke-width="0.6"/>
<path d="M14.5 5V21" stroke="#7ed321" stroke-width="1.2"/><rect x="11" y="8" width="7" height="9.5" fill="#8ee626" stroke="#5aa800" stroke-width="0.6"/>
<text x="22.5" y="20" font-size="16" fill="#f2f2f2" stroke="#f2f2f2" stroke-width=".3" textLength="166" lengthAdjust="spacingAndGlyphs">Germany 30 Cash (€1) (-)</text>
<text x="200.8" y="20" font-size="16" fill="#f2f2f2" stroke="#f2f2f2" stroke-width=".3" textLength="66.5" lengthAdjust="spacingAndGlyphs">5 minutes</text>
<text x="278.8" y="20" font-size="16" fill="#f2f2f2" stroke="#f2f2f2" stroke-width=".3" textLength="119.5" lengthAdjust="spacingAndGlyphs">13,378.6 (+0.38%)</text>
<text x="409" y="20" font-size="16" fill="#f2f2f2" stroke="#f2f2f2" stroke-width=".3" textLength="53" lengthAdjust="spacingAndGlyphs">16:43:31</text>
<text x="691.2" y="20" font-size="16" fill="#f2f2f2" stroke="#f2f2f2" stroke-width=".3" textLength="106.8" lengthAdjust="spacingAndGlyphs">IT-Finance.com</text>
<rect x="0.8" y="25" width="293.2" height="20.8" fill="url(#gt)"/>
<path d="M1.3 26V45.3H293.5V26" fill="none" stroke="#565656" stroke-width="1"/>
<rect x="0.8" y="25" width="293.2" height="1" fill="#484848"/>
<rect x="38.5" y="26" width="1" height="18.8" fill="#1c1c1c"/><rect x="39.4" y="26" width="1" height="18.8" fill="#565656"/>
<rect x="91.5" y="26" width="1" height="18.8" fill="#1c1c1c"/><rect x="92.4" y="26" width="1" height="18.8" fill="#565656"/>
<rect x="164.3" y="26" width="1" height="18.8" fill="#1c1c1c"/><rect x="165.2" y="26" width="1" height="18.8" fill="#565656"/>
<text x="2.5" y="42" font-size="16" fill="#f4f4f4" stroke="#f4f4f4" stroke-width=".3" textLength="35" lengthAdjust="spacingAndGlyphs">Price</text>
<text x="42" y="42" font-size="16" fill="#8800cc" stroke="#8800cc" stroke-width=".3" textLength="48" lengthAdjust="spacingAndGlyphs">Boll up</text>
<text x="95.5" y="42" font-size="16" fill="#8800cc" stroke="#8800cc" stroke-width=".3" textLength="67.8" lengthAdjust="spacingAndGlyphs">Boll down</text>
<text x="168" y="42" font-size="16" fill="#8800cc" stroke="#8800cc" stroke-width=".3" textLength="123" lengthAdjust="spacingAndGlyphs">Boll middle ( 50 3)</text>
<rect x="0.8" y="300" width="174.2" height="20.8" fill="url(#gt)"/>
<path d="M1.3 301V320.3H174.5V301" fill="none" stroke="#565656" stroke-width="1"/>
<rect x="0.8" y="300" width="174.2" height="1" fill="#484848"/>
<text x="2.3" y="317" font-size="16" fill="#f4f4f4" stroke="#f4f4f4" stroke-width=".3" textLength="169.5" lengthAdjust="spacingAndGlyphs">Bollinger Band Oscillator</text>
<text x="2.8" y="294.8" font-size="11" fill="#e8e8e8" stroke="#e8e8e8" stroke-width=".3" textLength="89" lengthAdjust="spacingAndGlyphs">© IT-Finance.com</text>
<rect x="733" y="82" width="3.6" height="1" fill="#6a6a6a"/>
<text x="738.9" y="88.1" font-size="16" fill="#e6e6e6" stroke="#e6e6e6" stroke-width=".3" textLength="43.8" lengthAdjust="spacingAndGlyphs">13,450</text>
<rect x="733" y="162.5" width="3.6" height="1" fill="#6a6a6a"/>
<text x="738.9" y="168.6" font-size="16" fill="#e6e6e6" stroke="#e6e6e6" stroke-width=".3" textLength="43.8" lengthAdjust="spacingAndGlyphs">13,400</text>
<rect x="733" y="242.5" width="3.6" height="1" fill="#6a6a6a"/>
<text x="738.9" y="248.6" font-size="16" fill="#e6e6e6" stroke="#e6e6e6" stroke-width=".3" textLength="43.8" lengthAdjust="spacingAndGlyphs">13,350</text>
<rect x="733" y="348" width="3.6" height="1" fill="#6a6a6a"/>
<text x="738.9" y="354.1" font-size="16" fill="#e6e6e6" stroke="#e6e6e6" stroke-width=".3" textLength="24.8" lengthAdjust="spacingAndGlyphs">800</text>
<rect x="733" y="398" width="3.6" height="1" fill="#6a6a6a"/>
<text x="738.9" y="404.1" font-size="16" fill="#e6e6e6" stroke="#e6e6e6" stroke-width=".3" textLength="24.8" lengthAdjust="spacingAndGlyphs">600</text>
<rect x="733" y="448" width="3.6" height="1" fill="#6a6a6a"/>
<text x="738.9" y="454.1" font-size="16" fill="#e6e6e6" stroke="#e6e6e6" stroke-width=".3" textLength="24.8" lengthAdjust="spacingAndGlyphs">400</text>
<rect x="733" y="498" width="3.6" height="1" fill="#6a6a6a"/>
<text x="738.9" y="504.1" font-size="16" fill="#e6e6e6" stroke="#e6e6e6" stroke-width=".3" textLength="24.8" lengthAdjust="spacingAndGlyphs">200</text>
<rect x="733" y="548.5" width="3.6" height="1" fill="#6a6a6a"/>
<text x="738.9" y="554.6" font-size="16" fill="#e6e6e6" stroke="#e6e6e6" stroke-width=".3" textLength="8.8" lengthAdjust="spacingAndGlyphs">0</text>
<path d="M733 323.5h2.5M733 373.5h2.5M733 423.5h2.5M733 473.5h2.5M733 523.5h2.5" stroke="#666" stroke-width="1"/>
<rect x="733" y="152" width="4.5" height="1.2" fill="#8800cc"/>
<rect x="737.9" y="141.7" width="57.4" height="20.9" fill="url(#gx)" stroke="#525252" stroke-width="1"/>
<text x="738.5" y="158.7" font-size="16" fill="#8800cc" stroke="#8800cc" stroke-width=".3" textLength="55" lengthAdjust="spacingAndGlyphs">13,406.3</text>
<rect x="733" y="200.2" width="4.5" height="1.2" fill="#8800cc"/>
<rect x="737.9" y="199.5" width="56.2" height="21.3" fill="url(#gx)" stroke="#525252" stroke-width="1"/>
<text x="738.5" y="216.8" font-size="16" fill="#8800cc" stroke="#8800cc" stroke-width=".3" textLength="54.3" lengthAdjust="spacingAndGlyphs">13,375.7</text>
<rect x="733" y="196.9" width="4.5" height="1.2" fill="#fff"/>
<rect x="737.9" y="178.1" width="56.2" height="20.4" fill="url(#gy)" stroke="#8a7a30" stroke-width="1"/>
<text x="738.5" y="194.5" font-size="16" fill="#000" stroke="#000" stroke-width=".3" textLength="54.3" lengthAdjust="spacingAndGlyphs">13,378.6</text>
<rect x="733" y="249.7" width="4.5" height="1.2" fill="#8800cc"/>
<rect x="737.9" y="239.7" width="55.6" height="21.6" fill="url(#gx)" stroke="#525252" stroke-width="1"/>
<text x="738.5" y="257.1" font-size="16" fill="#8800cc" stroke="#8800cc" stroke-width=".3" textLength="53.3" lengthAdjust="spacingAndGlyphs">13,345.1</text>
<rect x="733" y="518.8" width="4.5" height="1.2" fill="#fff"/>
<rect x="737.9" y="508.9" width="42.6" height="21" fill="url(#gx)" stroke="#5a5a5a" stroke-width="1"/>
<text x="738.5" y="525.6" font-size="16" fill="#fff" stroke="#fff" stroke-width=".3" textLength="41.5" lengthAdjust="spacingAndGlyphs">113.29</text>
<text x="32.2" y="595" font-size="16" fill="#e6e6e6" stroke="#e6e6e6" stroke-width=".3" textLength="35.3" lengthAdjust="spacingAndGlyphs">16:00</text>
<text x="85.2" y="595" font-size="16" fill="#e6e6e6" stroke="#e6e6e6" stroke-width=".3" textLength="35.3" lengthAdjust="spacingAndGlyphs">18:00</text>
<text x="139.2" y="595" font-size="16" fill="#e6e6e6" stroke="#e6e6e6" stroke-width=".3" textLength="35.3" lengthAdjust="spacingAndGlyphs">20:00</text>
<text x="192.2" y="595" font-size="16" fill="#e6e6e6" stroke="#e6e6e6" stroke-width=".3" textLength="35.3" lengthAdjust="spacingAndGlyphs">22:00</text>
<text x="255.2" y="595" font-size="16" fill="#e6e6e6" stroke="#e6e6e6" stroke-width=".3" textLength="17.3" lengthAdjust="spacingAndGlyphs">08</text>
<text x="299.2" y="595" font-size="16" fill="#e6e6e6" stroke="#e6e6e6" stroke-width=".3" textLength="35.3" lengthAdjust="spacingAndGlyphs">02:00</text>
<text x="353.2" y="595" font-size="16" fill="#e6e6e6" stroke="#e6e6e6" stroke-width=".3" textLength="35.3" lengthAdjust="spacingAndGlyphs">04:00</text>
<text x="406.2" y="595" font-size="16" fill="#e6e6e6" stroke="#e6e6e6" stroke-width=".3" textLength="35.3" lengthAdjust="spacingAndGlyphs">06:00</text>
<text x="460.2" y="595" font-size="16" fill="#e6e6e6" stroke="#e6e6e6" stroke-width=".3" textLength="35.3" lengthAdjust="spacingAndGlyphs">08:00</text>
<text x="513.2" y="595" font-size="16" fill="#e6e6e6" stroke="#e6e6e6" stroke-width=".3" textLength="35.3" lengthAdjust="spacingAndGlyphs">10:00</text>
<text x="567.2" y="595" font-size="16" fill="#e6e6e6" stroke="#e6e6e6" stroke-width=".3" textLength="35.3" lengthAdjust="spacingAndGlyphs">12:00</text>
<text x="620.2" y="595" font-size="16" fill="#e6e6e6" stroke="#e6e6e6" stroke-width=".3" textLength="35.3" lengthAdjust="spacingAndGlyphs">14:00</text>
<text x="674.2" y="595" font-size="16" fill="#e6e6e6" stroke="#e6e6e6" stroke-width=".3" textLength="35.3" lengthAdjust="spacingAndGlyphs">16:00</text>
<path d="M50.5 572.5v4M103.5 572.5v4M157.5 572.5v4M210.5 572.5v4M264.5 572.5v4M317.5 572.5v4M371.5 572.5v4M424.5 572.5v4M478.5 572.5v4M531.5 572.5v4M585.5 572.5v4M638.5 572.5v4M692.5 572.5v4" stroke="#777" stroke-width="1"/>
<rect x="0.5" y="0.5" width="799" height="599" fill="none" stroke="#505050" stroke-width="1"/>
</svg></body></html>
